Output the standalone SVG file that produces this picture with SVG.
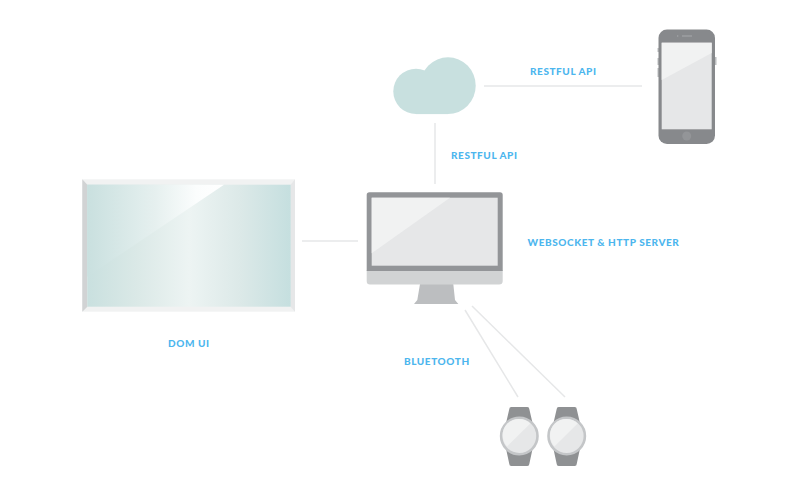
<svg xmlns="http://www.w3.org/2000/svg" width="800" height="500" viewBox="0 0 800 500">
<style>
.lbl{font-family:"Lato","Liberation Sans",sans-serif;font-size:10px;font-weight:900;letter-spacing:.58px;fill:#4db6ee}
.cn{stroke:#e6e7e8;stroke-width:1.5;fill:none}
.dark{fill:#87898c}
.glass{fill:#e6e7e8}
.glare{fill:#f1f2f2}
.band{fill:#8f9193}
.bezel{fill:#e6e7e8;stroke:#c4c6c8;stroke-width:2.6}
.cl{fill:#c8e0df}
</style>
<defs>
<linearGradient id="tvLow" x1="0" x2="1" y1="0" y2="0"><stop offset="0" stop-color="#c9e0df"/><stop offset=".25" stop-color="#dbe9e7"/><stop offset=".5" stop-color="#edf4f3"/><stop offset=".75" stop-color="#dce9e8"/><stop offset="1" stop-color="#c5dfdf"/></linearGradient>
<linearGradient id="tvHigh" gradientUnits="userSpaceOnUse" x1="87" x2="224" y1="0" y2="0"><stop offset="0" stop-color="#c9e0df"/><stop offset=".5" stop-color="#e6f0ef"/><stop offset=".8" stop-color="#fbfdfd"/><stop offset="1" stop-color="#ffffff"/></linearGradient>
<g id="watchShape">
<path class="band" d="M-10 -27Q-10 -29 -8 -29H8Q10 -29 10 -27L13 -14H-13ZM-13 14H13L10 28Q10 30 8 30H-8Q-10 30 -10 28Z"/>
<circle class="bezel" r="18.2"/>
<path class="glare" d="M-12 -12.500A17 17 0 0 1 11 -12.500L-12.300 10.500A17 17 0 0 1 -12 -12.500Z"/>
</g>
</defs>
<g id="connectors">
<path class="cn" d="M484 86H642"/>
<path class="cn" d="M435 123V184"/>
<path class="cn" d="M302 241H358"/>
<path class="cn" d="M465 310L518 397"/>
<path class="cn" d="M472 306L565 397"/>
</g>
<g id="cloud">
<ellipse class="cl" cx="448" cy="85.700" rx="27.700" ry="28.400"/>
<circle class="cl" cx="416" cy="91.400" r="22.700"/>
<rect class="cl" x="416" y="80" width="32" height="34.100"/>
</g>
<g id="phone">
<path fill="#bcbec0" d="M657.500 48H659V52H657.500ZM657.500 58H659V65H657.500ZM657.500 68H659V77H657.500ZM714 57H716.500V65H714Z"/>
<rect class="dark" x="658.500" y="29.500" width="56.500" height="114.500" rx="8.500"/>
<rect class="glass" x="661.700" y="42.700" width="50" height="86.600"/>
<path class="glare" d="M661.700 42.700H711.700V53L661.700 80Z"/>
<circle cx="686.700" cy="136" r="4.500" fill="#939598"/>
<rect x="682" y="35.500" width="10" height="1" fill="#a7a9ac"/>
<circle cx="677.700" cy="36" r=".7" fill="#a7a9ac"/>
</g>
<g id="tv">
<rect x="82.300" y="179.300" width="212.700" height="132.400" fill="#f1f2f2"/>
<path fill="#d1d3d4" d="M82.300 179.300L87.300 184.700V306.700L82.300 311.700Z"/>
<path fill="#e6e7e8" d="M295 179.300L290.700 184.700V306.700L295 311.700Z"/>
<rect x="87.300" y="184.700" width="203.400" height="122" fill="url(#tvLow)"/>
<path fill="url(#tvHigh)" d="M87.300 184.700H224L87.300 276.700Z"/>
</g>
<g id="monitor">
<path fill="#bcbec0" d="M420 284H453.300L455 300L458.300 304H414L417.300 300Z"/>
<path fill="#d1d3d4" d="M366.700 270H502.700V281Q502.700 284.500 499 284.500H370Q366.700 284.500 366.700 281Z"/>
<path fill="#939598" d="M366.700 271V195Q366.700 192.300 369.500 192.300H500Q502.700 192.300 502.700 195V271Z"/>
<rect class="glass" x="371.700" y="197.700" width="126" height="68"/>
<path class="glare" d="M371.700 197.700H450L371.700 253.300Z"/>
</g>
<g id="watch1"><use href="#watchShape" x="519.300" y="436"/></g>
<g id="watch2"><use href="#watchShape" x="566.700" y="436"/></g>
<text class="lbl" x="530" y="75">RESTFUL API</text>
<text class="lbl" x="451" y="159">RESTFUL API</text>
<text class="lbl" x="527.500" y="246">WEBSOCKET &amp; HTTP SERVER</text>
<text class="lbl" x="168" y="347">DOM UI</text>
<text class="lbl" x="404" y="365">BLUETOOTH</text>
</svg>
